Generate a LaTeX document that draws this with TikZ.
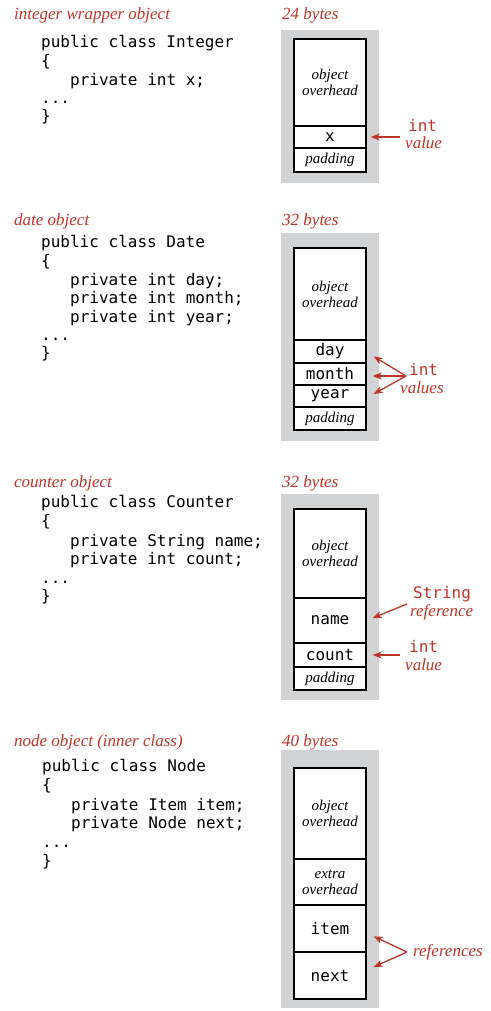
\documentclass[tikz,border=0pt]{standalone}
\usepackage{fontspec}
\setmainfont{Liberation Serif}
\newfontfamily\codefont{DejaVu Sans Mono}
\usetikzlibrary{arrows.meta}
\definecolor{bookred}{RGB}{192,52,40}
\definecolor{panelgray}{RGB}{210,211,213}
\tikzset{
  title/.style={anchor=base west, inner sep=0pt, text=bookred, font=\fontsize{17}{19}\selectfont\itshape},
  code/.style={anchor=base west, inner sep=0pt, font=\fontsize{16}{19}\codefont},
  panel/.style={fill=panelgray, draw=none, inner sep=0pt, minimum width=98pt},
  cell/.style={draw=black, fill=white, line width=1.3pt, inner sep=0pt, minimum width=72pt, align=center},
  ctext/.style={font=\fontsize{15}{16}\selectfont\itshape},
  cmono/.style={font=\fontsize{16}{18}\codefont},
  lblmono/.style={anchor=base west, inner sep=0pt, text=bookred, font=\fontsize{16}{18}\codefont},
  lblit/.style={anchor=base west, inner sep=0pt, text=bookred, font=\fontsize{17}{19}\selectfont\itshape},
  arr/.style={draw=bookred, line width=1.3pt, -{Stealth[length=9pt,width=7pt,inset=2.5pt]}},
}
\begin{document}
\begin{tikzpicture}[x=1pt,y=-1pt]
\useasboundingbox (0,0) rectangle (490,1011);

% ---------- section 1 ----------
\node[title] (t1) at (14,20) {integer wrapper object};
\node[code] (c1a) at (41,48) {public class Integer};
\node[code] (c1b) at (41,67) {\{};
\node[code] (c1c) at (70,86) {private int x;};
\node[code] (c1d) at (41,104) {...};
\node[code] (c1e) at (41,122) {\}};
\node[title] (b1) at (282,20) {24 bytes};
\node[panel, minimum height=153pt] (p1) at (330,106.5) {};
\node[cell, minimum height=87pt, ctext] (o1) at (330,82.5) {object\\overhead};
\node[cell, minimum height=22pt, cmono] (x1) at (330,137) {x};
\node[cell, minimum height=24pt, ctext] (pad1) at (330,160) {padding};
\node[lblmono] (i1) at (408,132) {int};
\node[lblit] (v1) at (405,149) {value};
\coordinate (s1) at (400,137);
\draw[arr] (s1) -- ([xshift=4pt]x1.east);

% ---------- section 2 ----------
\node[title] (t2) at (14,225) {date object};
\node[code] (c2a) at (41,247) {public class Date};
\node[code] (c2b) at (41,266) {\{};
\node[code] (c2c) at (70,285) {private int day;};
\node[code] (c2d) at (70,303) {private int month;};
\node[code] (c2e) at (70,322) {private int year;};
\node[code] (c2f) at (41,340) {...};
\node[code] (c2g) at (41,358) {\}};
\node[title] (b2) at (282,225) {32 bytes};
\node[panel, minimum height=208pt] (p2) at (330,337) {};
\node[cell, minimum height=92pt, ctext] (o2) at (330,294) {object\\overhead};
\node[cell, minimum height=23pt, cmono] (d2) at (330,351.5) {day};
\node[cell, minimum height=22pt, cmono] (m2) at (330,374) {month};
\node[cell, minimum height=22pt, cmono] (y2) at (330,396) {year};
\node[cell, minimum height=23pt, ctext] (pad2) at (330,418.5) {padding};
\node[lblmono] (i2) at (409,375) {int};
\node[lblit] (v2) at (400,393) {values};
\coordinate (s2) at (406,376);
\draw[arr] (s2) -- ([xshift=7pt,yshift=-5pt]d2.east);
\draw[arr] (s2) -- ([xshift=6pt,yshift=-2pt]m2.east);
\draw[arr] (s2) -- ([xshift=7pt,yshift=2pt]y2.east);

% ---------- section 3 ----------
\node[title] (t3) at (14,487) {counter object};
\node[code] (c3a) at (41,507) {public class Counter};
\node[code] (c3b) at (41,526) {\{};
\node[code] (c3c) at (70,546) {private String name;};
\node[code] (c3d) at (70,564) {private int count;};
\node[code] (c3e) at (41,583) {...};
\node[code] (c3f) at (41,601) {\}};
\node[title] (b3) at (282,487) {32 bytes};
\node[panel, minimum height=206pt] (p3) at (330,597) {};
\node[cell, minimum height=89pt, ctext] (o3) at (330,553.5) {object\\overhead};
\node[cell, minimum height=45pt, cmono] (n3) at (330,620.5) {name};
\node[cell, minimum height=24pt, cmono] (k3) at (330,655) {count};
\node[cell, minimum height=23pt, ctext] (pad3) at (330,678.5) {padding};
\node[lblmono] (s3l) at (413,598) {String};
\node[lblit] (r3) at (410,616) {reference};
\node[lblmono] (i3) at (409,652) {int};
\node[lblit] (v3) at (405,670) {value};
\coordinate (s3a) at (407,604);
\coordinate (s3b) at (400,655);
\draw[arr] (s3a) -- ([xshift=6pt,yshift=2.5pt]n3.east);
\draw[arr] (s3b) -- ([xshift=6pt]k3.east);

% ---------- section 4 ----------
\node[title] (t4) at (14,746) {node object (inner class)};
\node[code] (c4a) at (42,771) {public class Node};
\node[code] (c4b) at (42,790) {\{};
\node[code] (c4c) at (71,810) {private Item item;};
\node[code] (c4d) at (71,828) {private Node next;};
\node[code] (c4e) at (42,847) {...};
\node[code] (c4f) at (42,866) {\}};
\node[title] (b4) at (282,746) {40 bytes};
\node[panel, minimum height=258pt] (p4) at (330,879) {};
\node[cell, minimum height=91pt, ctext] (o4) at (330,813.5) {object\\overhead};
\node[cell, minimum height=46pt, ctext] (e4) at (330,882) {extra\\overhead};
\node[cell, minimum height=47pt, cmono] (it4) at (330,928.5) {item};
\node[cell, minimum height=47pt, cmono] (nx4) at (330,975.5) {next};
\node[lblit] (r4) at (413,956) {references};
\coordinate (s4) at (407,952);
\draw[arr] (s4) -- ([xshift=7pt,yshift=15pt]nx4.north east);
\draw[arr] (s4) -- ([xshift=7pt,yshift=8.5pt]nx4.east);
\end{tikzpicture}
\end{document}
